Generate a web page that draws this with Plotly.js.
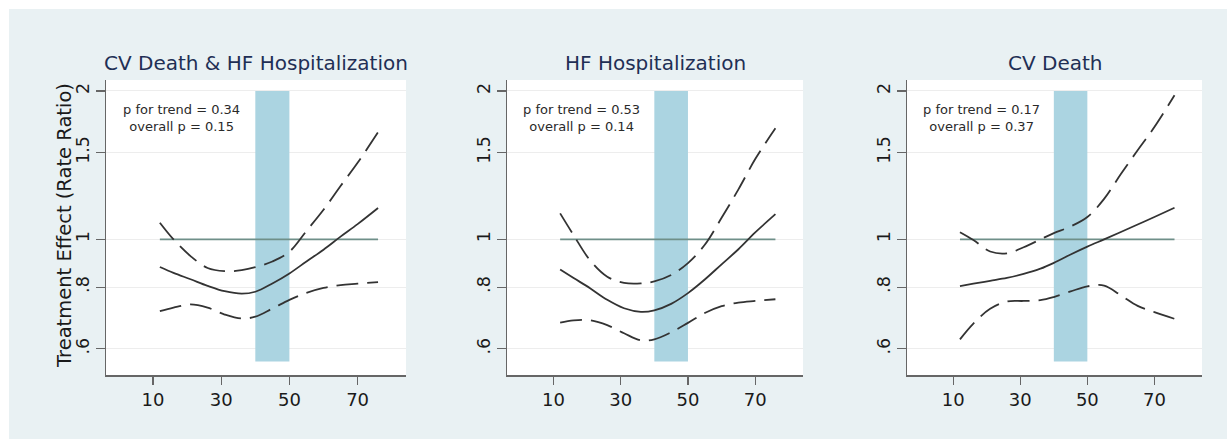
<!DOCTYPE html>
<html>
<head>
<meta charset="utf-8">
<script src="https://cdn.plot.ly/plotly-3.0.1.min.js"></script>
<style>
html,body{margin:0;padding:0;background:#fff;}
#chart{width:1227px;height:439px;}
</style>
</head>
<body>
<div id="chart"></div>
<script>
// ---- data ----
const panelTitles = ["CV Death & HF Hospitalization", "HF Hospitalization", "CV Death"];
const pTrend = ["0.34", "0.53", "0.17"];
const pOverall = ["0.15", "0.14", "0.37"];

const ageX = [12, 16, 21, 26, 31, 36, 40, 45, 50, 55, 60, 65, 70, 76];

const est1 = [0.879, 0.855, 0.830, 0.805, 0.785, 0.776, 0.783, 0.814, 0.853, 0.902, 0.953, 1.013, 1.074, 1.158];
const upp1 = [1.081, 1.000, 0.925, 0.875, 0.862, 0.866, 0.878, 0.902, 0.944, 1.040, 1.148, 1.283, 1.430, 1.650];
const low1 = [0.715, 0.727, 0.738, 0.727, 0.704, 0.691, 0.697, 0.724, 0.754, 0.779, 0.797, 0.808, 0.813, 0.819];

const est2 = [0.869, 0.835, 0.795, 0.754, 0.725, 0.713, 0.718, 0.740, 0.778, 0.829, 0.890, 0.955, 1.033, 1.125];
const upp2 = [1.129, 1.020, 0.905, 0.840, 0.816, 0.814, 0.822, 0.847, 0.895, 0.975, 1.106, 1.263, 1.455, 1.680];
const low2 = [0.678, 0.685, 0.685, 0.670, 0.645, 0.624, 0.627, 0.648, 0.677, 0.709, 0.732, 0.744, 0.750, 0.756];

const est3 = [0.804, 0.813, 0.824, 0.835, 0.851, 0.872, 0.896, 0.932, 0.967, 1.000, 1.035, 1.072, 1.110, 1.159];
const upp3 = [1.034, 0.997, 0.945, 0.937, 0.964, 1.000, 1.030, 1.062, 1.110, 1.208, 1.357, 1.516, 1.690, 1.960];
const low3 = [0.627, 0.675, 0.723, 0.748, 0.750, 0.753, 0.764, 0.784, 0.803, 0.806, 0.770, 0.733, 0.712, 0.690];

const refX = [12, 76];
const refY = [1, 1];
const bandX = [40, 50];
const bandY = [0.565, 2];

const xTicks = [10, 30, 50, 70];
const yTickVals = [0.6, 0.8, 1, 1.5, 2];
const yTickText = [".6", ".8", "1", "1.5", "2"];
const yTitle = "Treatment Effect (Rate Ratio)";

// ---- build ----
const W = 1227, H = 439;
const FONT = "DejaVu Sans";
const series = [[est1, upp1, low1], [est2, upp2, low2], [est3, upp3, low3]];
const domainsPx = [[106, 406], [507, 803], [907, 1202]];
const yDomPx = [80, 375];
const yDom = [(H - yDomPx[1]) / H, (H - yDomPx[0]) / H];

const traces = [];
const layout = {
  width: W, height: H,
  margin: {l: 0, r: 0, t: 0, b: 0},
  paper_bgcolor: "#e9f1f3",
  plot_bgcolor: "#ffffff",
  showlegend: false,
  font: {family: FONT, color: "#1a1a1a"},
  shapes: [],
  annotations: []
};

// white outer border (top/left)
layout.shapes.push({type: "rect", xref: "paper", yref: "paper", x0: 0, x1: 9 / W, y0: 0, y1: 1,
  fillcolor: "#ffffff", line: {width: 0}, layer: "below"});
layout.shapes.push({type: "rect", xref: "paper", yref: "paper", x0: 0, x1: 1, y0: 1 - 9 / H, y1: 1,
  fillcolor: "#ffffff", line: {width: 0}, layer: "below"});

for (let i = 0; i < 3; i++) {
  const sfx = i === 0 ? "" : String(i + 1);
  const xa = "x" + sfx, ya = "y" + sfx;
  const [est, upp, low] = series[i];

  traces.push({x: refX, y: refY, xaxis: xa, yaxis: ya, mode: "lines",
    line: {color: "#6f8f89", width: 1.7}, hoverinfo: "skip"});
  traces.push({x: ageX, y: upp, xaxis: xa, yaxis: ya, mode: "lines",
    line: {color: "#333333", width: 1.8, dash: "22px,9px", shape: "spline"}});
  traces.push({x: ageX, y: est, xaxis: xa, yaxis: ya, mode: "lines",
    line: {color: "#333333", width: 1.8, shape: "spline"}});
  traces.push({x: ageX, y: low, xaxis: xa, yaxis: ya, mode: "lines",
    line: {color: "#333333", width: 1.8, dash: "22px,9px", shape: "spline"}});

  layout["xaxis" + sfx] = {
    domain: [domainsPx[i][0] / W, domainsPx[i][1] / W],
    anchor: ya,
    range: [-3.8, 84.2],
    tickvals: xTicks,
    ticks: "outside", ticklen: 8, tickwidth: 1.3, tickcolor: "#666",
    showline: true, linecolor: "#666", linewidth: 1.5,
    showgrid: false, zeroline: false,
    tickfont: {family: FONT, size: 18, color: "#1a1a1a"}
  };
  layout["yaxis" + sfx] = {
    domain: yDom,
    anchor: xa,
    type: "log",
    range: [-0.2751, 0.3233],
    tickvals: yTickVals, ticktext: yTickText,
    tickangle: -90,
    ticks: "outside", ticklen: 9, tickwidth: 1.3, tickcolor: "#666",
    showline: true, linecolor: "#666", linewidth: 1.5,
    showgrid: true, gridcolor: "#ededed", gridwidth: 1,
    zeroline: false,
    tickfont: {family: FONT, size: 17.5, color: "#1a1a1a"}
  };

  layout.shapes.push({type: "rect", xref: xa, yref: ya,
    x0: bandX[0], x1: bandX[1], y0: bandY[0], y1: bandY[1],
    fillcolor: "#abd4e1", line: {width: 0}, layer: "between"});

  layout.annotations.push({xref: xa + " domain", yref: "paper", x: 0.5, y: (H - 63) / H,
    xanchor: "center", yanchor: "middle", showarrow: false,
    text: panelTitles[i], font: {family: FONT, size: 20, color: "#1f2f55"}});

  layout.annotations.push({xref: xa, yref: "paper", x: 18.3, y: (H - 118) / H,
    xanchor: "center", yanchor: "middle", showarrow: false, align: "center",
    text: "p for trend = " + pTrend[i] + "<br>overall p = " + pOverall[i],
    font: {family: FONT, size: 13, color: "#2a2a2a"}});
}

layout.annotations.push({xref: "paper", yref: "paper", x: 65 / W, y: (H - 226) / H,
  xanchor: "center", yanchor: "middle", showarrow: false, textangle: -90,
  text: yTitle, font: {family: FONT, size: 19.5, color: "#1a1a1a"}});

Plotly.newPlot("chart", traces, layout, {displayModeBar: false, staticPlot: true});
</script>
</body>
</html>
